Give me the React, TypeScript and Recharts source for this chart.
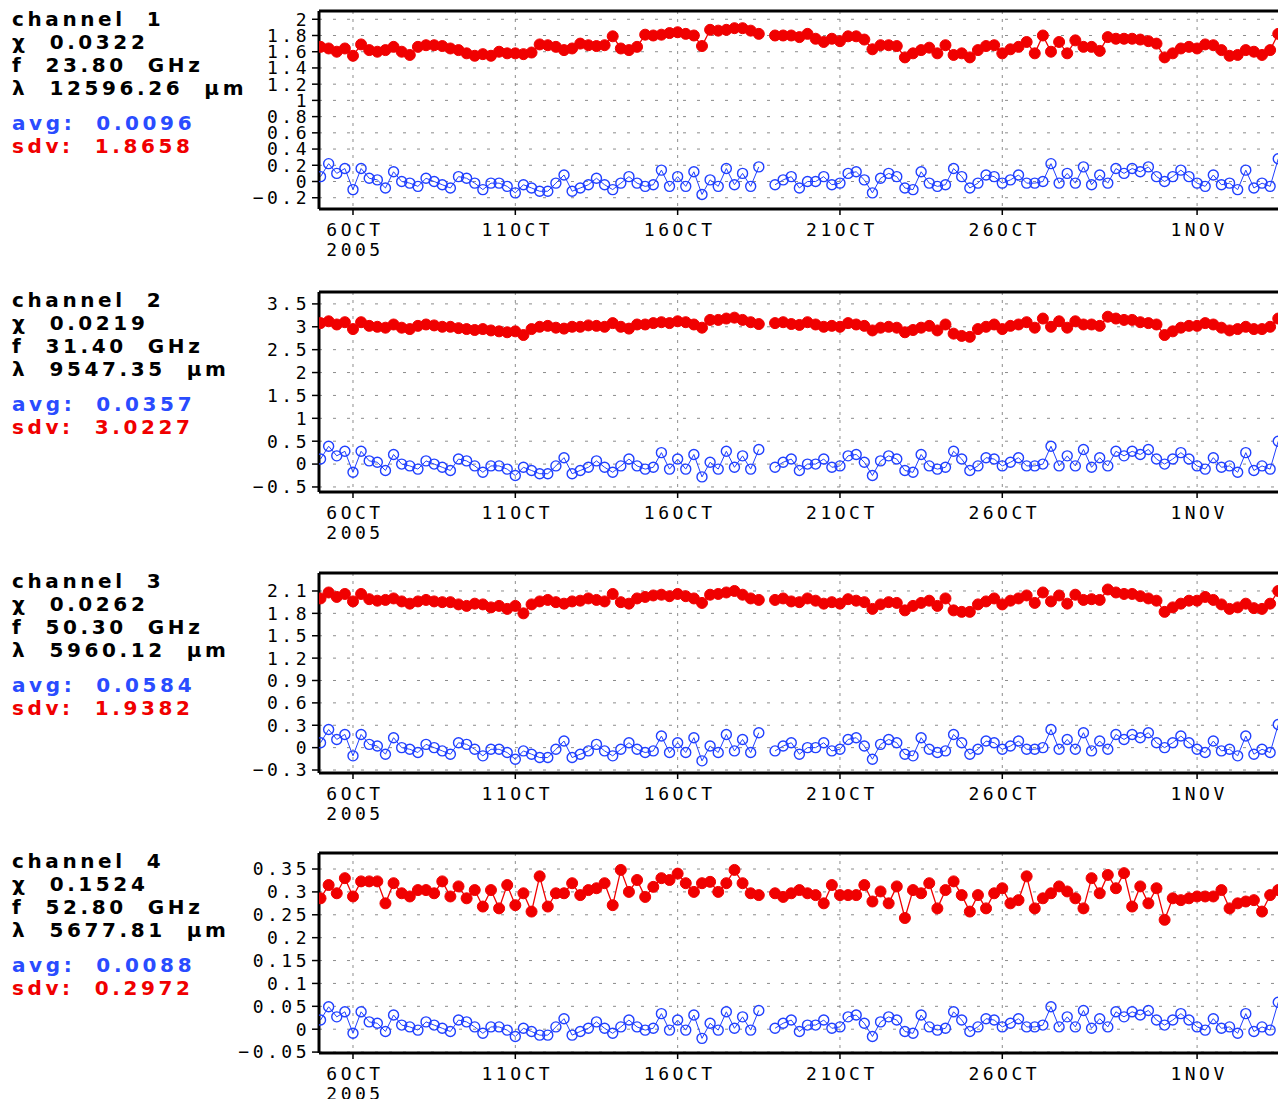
import React from "react";
import { LineChart, Line, XAxis, YAxis, CartesianGrid, ReferenceLine } from "recharts";

// 6-hourly samples starting 5 Oct 2005 00Z (day-of-October numbering, 1 Nov = 32)
const START_DAY = 5;
const STEP_DAYS = 0.25;

const xTicks = [6, 11, 16, 21, 26, 32];
const xTickLabels: Record<number, string> = {
  6: "6OCT",
  11: "11OCT",
  16: "16OCT",
  21: "21OCT",
  26: "26OCT",
  32: "1NOV",
};
const X_DOMAIN: [number, number] = [4.953, 35.17];

const ch1Sdv = [
  1.66, 1.64, 1.6, 1.64, 1.55, 1.69, 1.62, 1.6, 1.62, 1.66, 1.6, 1.56,
  1.66, 1.68, 1.68, 1.67, 1.64, 1.62, 1.58, 1.55, 1.57, 1.55, 1.6, 1.58,
  1.58, 1.57, 1.59, 1.69, 1.68, 1.66, 1.62, 1.64, 1.7, 1.68, 1.67, 1.68,
  1.79, 1.64, 1.62, 1.66, 1.81, 1.8, 1.81, 1.83, 1.84, 1.82, 1.8, 1.67,
  1.87, 1.86, 1.87, 1.89, 1.89, 1.86, 1.82, null, 1.8, 1.8, 1.8, 1.78,
  1.82, 1.76, 1.72, 1.76, 1.73, 1.79, 1.79, 1.75, 1.63, 1.68, 1.68, 1.67,
  1.53, 1.58, 1.62, 1.65, 1.58, 1.68, 1.56, 1.58, 1.53, 1.62, 1.67, 1.68,
  1.58, 1.63, 1.66, 1.72, 1.58, 1.8, 1.6, 1.72, 1.58, 1.74, 1.66, 1.66,
  1.61, 1.78, 1.76, 1.76, 1.76, 1.75, 1.73, 1.7, 1.53, 1.58, 1.64, 1.66,
  1.64, 1.69, 1.68, 1.62, 1.55, 1.56, 1.62, 1.6, 1.56, 1.62, 1.82,
];
const ch1Avg = [
  0.06, 0.22, 0.1, 0.16, -0.1, 0.16, 0.04, 0.02, -0.08, 0.12,
  0.0, -0.02, -0.06, 0.04, 0.0, -0.04, -0.08, 0.06, 0.04, -0.02,
  -0.1, -0.02, -0.02, -0.06, -0.14, -0.04, -0.08, -0.12, -0.12, -0.02,
  0.08, -0.12, -0.08, -0.04, 0.04, -0.04, -0.1, -0.02, 0.06, -0.02,
  -0.06, -0.04, 0.14, -0.06, 0.06, -0.06, 0.12, -0.16, 0.02, -0.06,
  0.16, -0.04, 0.1, -0.06, 0.18, null, -0.04, 0.02, 0.06, -0.08,
  0.0, 0.0, 0.06, -0.04, -0.02, 0.1, 0.12, 0.02, -0.14, 0.04,
  0.1, 0.06, -0.08, -0.1, 0.12, -0.02, -0.06, -0.04, 0.16, 0.06,
  -0.08, -0.02, 0.08, 0.06, -0.02, 0.02, 0.08, -0.02, -0.02, 0.0,
  0.22, -0.02, 0.1, -0.02, 0.18, -0.04, 0.08, -0.02, 0.16, 0.1,
  0.16, 0.12, 0.18, 0.06, 0.0, 0.06, 0.14, 0.06, -0.02, -0.06,
  0.08, -0.04, -0.02, -0.1, 0.14, -0.08, -0.02, -0.06, 0.28,
];

const ch2Sdv = [
  3.08, 3.12, 3.05, 3.1, 2.95, 3.1, 3.02, 3.0, 2.98, 3.05, 2.98, 2.95,
  3.02, 3.05, 3.03, 3.0, 3.0, 2.97, 2.95, 2.93, 2.95, 2.92, 2.9, 2.88,
  2.9, 2.82, 2.95, 3.0, 3.02, 2.98, 2.96, 3.0, 3.0, 3.03, 3.02, 3.0,
  3.08, 3.0, 2.96, 3.05, 3.05, 3.08, 3.1, 3.08, 3.12, 3.1, 3.05, 2.98,
  3.15, 3.15, 3.18, 3.2, 3.15, 3.1, 3.06, null, 3.08, 3.1, 3.06, 3.04,
  3.1, 3.05, 3.0, 3.02, 3.0, 3.08, 3.05, 3.02, 2.92, 2.98, 3.0, 2.98,
  2.88, 2.93, 2.98, 3.02, 2.92, 3.05, 2.85, 2.8, 2.78, 2.95, 3.0, 3.05,
  2.95, 3.02, 3.05, 3.1, 2.98, 3.18, 3.0, 3.12, 2.98, 3.12, 3.05, 3.05,
  3.02, 3.22, 3.18, 3.15, 3.15, 3.1, 3.08, 3.05, 2.82, 2.9, 2.98, 3.02,
  3.02, 3.08, 3.05, 2.98, 2.92, 2.95, 3.0, 2.95, 2.95, 3.0, 3.18,
];
const ch2Avg = [
  0.11, 0.39, 0.18, 0.28, -0.18, 0.28, 0.07, 0.04, -0.14, 0.21,
  0.0, -0.04, -0.11, 0.07, 0.0, -0.07, -0.14, 0.11, 0.07, -0.04,
  -0.18, -0.04, -0.04, -0.11, -0.25, -0.07, -0.14, -0.21, -0.21, -0.04,
  0.14, -0.21, -0.14, -0.07, 0.07, -0.07, -0.18, -0.04, 0.11, -0.04,
  -0.11, -0.07, 0.25, -0.11, 0.11, -0.11, 0.21, -0.28, 0.04, -0.11,
  0.28, -0.07, 0.18, -0.11, 0.32, null, -0.07, 0.04, 0.11, -0.14,
  0.0, 0.0, 0.11, -0.07, -0.04, 0.18, 0.21, 0.04, -0.25, 0.07,
  0.18, 0.11, -0.14, -0.18, 0.21, -0.04, -0.11, -0.07, 0.28, 0.11,
  -0.14, -0.04, 0.14, 0.11, -0.04, 0.04, 0.14, -0.04, -0.04, 0.0,
  0.39, -0.04, 0.18, -0.04, 0.32, -0.07, 0.14, -0.04, 0.28, 0.18,
  0.28, 0.21, 0.32, 0.11, 0.0, 0.11, 0.25, 0.11, -0.04, -0.11,
  0.14, -0.07, -0.04, -0.18, 0.25, -0.14, -0.04, -0.11, 0.5,
];

const ch3Sdv = [
  2.0, 2.08, 2.02, 2.06, 1.96, 2.06, 1.99, 1.97, 1.98, 2.0, 1.96, 1.93,
  1.96, 1.98, 1.96, 1.95, 1.95, 1.92, 1.9, 1.93, 1.92, 1.88, 1.9, 1.86,
  1.9, 1.8, 1.92, 1.96, 1.98, 1.95, 1.93, 1.96, 1.97, 2.0, 1.98, 1.96,
  2.06, 1.95, 1.93, 2.0, 2.02, 2.04, 2.05, 2.03, 2.06, 2.03, 2.0, 1.94,
  2.05, 2.06, 2.08, 2.1, 2.05, 2.0, 1.98, null, 1.98, 2.0, 1.96, 1.95,
  2.0, 1.97, 1.93, 1.95, 1.93, 1.99, 1.97, 1.95, 1.86, 1.92, 1.95, 1.94,
  1.84, 1.9, 1.94, 1.97, 1.9, 2.0, 1.84, 1.82, 1.82, 1.92, 1.96, 2.0,
  1.92, 1.97, 2.0, 2.04, 1.94, 2.08, 1.96, 2.04, 1.93, 2.05, 1.98, 1.99,
  1.98, 2.12, 2.08, 2.06, 2.06, 2.03, 2.0, 1.97, 1.82, 1.88, 1.93, 1.97,
  1.97, 2.02, 1.98, 1.92, 1.86, 1.88, 1.93, 1.87, 1.86, 1.93, 2.1,
];
const ch3Avg = [
  0.066, 0.243, 0.11, 0.177, -0.11, 0.177, 0.044, 0.022, -0.088, 0.133,
  0, -0.022, -0.066, 0.044, 0, -0.044, -0.088, 0.066, 0.044, -0.022,
  -0.11, -0.022, -0.022, -0.066, -0.155, -0.044, -0.088, -0.133, -0.133, -0.022,
  0.088, -0.133, -0.088, -0.044, 0.044, -0.044, -0.11, -0.022, 0.066, -0.022,
  -0.066, -0.044, 0.155, -0.066, 0.066, -0.066, 0.133, -0.177, 0.022, -0.066,
  0.177, -0.044, 0.11, -0.066, 0.2, null, -0.044, 0.022, 0.066, -0.088,
  0, 0, 0.066, -0.044, -0.022, 0.11, 0.133, 0.022, -0.155, 0.044,
  0.11, 0.066, -0.088, -0.11, 0.133, -0.022, -0.066, -0.044, 0.177, 0.066,
  -0.088, -0.022, 0.088, 0.066, -0.022, 0.022, 0.088, -0.022, -0.022, 0,
  0.243, -0.022, 0.11, -0.022, 0.2, -0.044, 0.088, -0.022, 0.177, 0.11,
  0.177, 0.133, 0.2, 0.066, 0, 0.066, 0.155, 0.066, -0.022, -0.066,
  0.088, -0.044, -0.022, -0.11, 0.155, -0.088, -0.022, -0.066, 0.31,
];

const ch4Sdv = [
  0.286, 0.315, 0.297, 0.33, 0.29, 0.323, 0.323, 0.323, 0.275, 0.319,
  0.297, 0.29, 0.304, 0.304, 0.297, 0.323, 0.29, 0.312, 0.286, 0.304,
  0.268, 0.304, 0.264, 0.315, 0.271, 0.297, 0.257, 0.334, 0.268, 0.297,
  0.297, 0.319, 0.293, 0.304, 0.308, 0.319, 0.271, 0.348, 0.3, 0.326,
  0.289, 0.311, 0.33, 0.326, 0.34, 0.319, 0.3, 0.319, 0.322, 0.3,
  0.319, 0.348, 0.319, 0.297, 0.293, null, 0.297, 0.289, 0.297, 0.304,
  0.297, 0.293, 0.275, 0.315, 0.293, 0.293, 0.293, 0.315, 0.279, 0.301,
  0.275, 0.312, 0.243, 0.304, 0.297, 0.319, 0.264, 0.304, 0.323, 0.293,
  0.257, 0.293, 0.264, 0.297, 0.308, 0.275, 0.282, 0.334, 0.264, 0.286,
  0.297, 0.312, 0.301, 0.286, 0.264, 0.33, 0.297, 0.337, 0.308, 0.341,
  0.268, 0.312, 0.275, 0.308, 0.239, 0.286, 0.282, 0.286, 0.29, 0.29,
  0.29, 0.304, 0.264, 0.275, 0.279, 0.282, 0.257, 0.293, 0.304,
];
const ch4Avg = [
  0.02, 0.049, 0.027, 0.038, -0.009, 0.038, 0.016, 0.013, -0.005, 0.031,
  0.009, 0.005, -0.002, 0.016, 0.009, 0.002, -0.005, 0.02, 0.016, 0.005,
  -0.009, 0.005, 0.005, -0.002, -0.016, 0.002, -0.005, -0.013, -0.013, 0.005,
  0.023, -0.013, -0.005, 0.002, 0.016, 0.002, -0.009, 0.005, 0.02, 0.005,
  -0.002, 0.002, 0.034, -0.002, 0.02, -0.002, 0.031, -0.02, 0.013, -0.002,
  0.038, 0.002, 0.027, -0.002, 0.041, null, 0.002, 0.013, 0.02, -0.005,
  0.009, 0.009, 0.02, 0.002, 0.005, 0.027, 0.031, 0.013, -0.016, 0.016,
  0.027, 0.02, -0.005, -0.009, 0.031, 0.005, -0.002, 0.002, 0.038, 0.02,
  -0.005, 0.005, 0.023, 0.02, 0.005, 0.013, 0.023, 0.005, 0.005, 0.009,
  0.049, 0.005, 0.027, 0.005, 0.041, 0.002, 0.023, 0.005, 0.038, 0.027,
  0.038, 0.031, 0.041, 0.02, 0.009, 0.02, 0.034, 0.02, 0.005, -0.002,
  0.023, 0.002, 0.005, -0.009, 0.034, -0.005, 0.005, -0.002, 0.059,
];

const ch1Ticks = [-0.2, 0, 0.2, 0.4, 0.6, 0.8, 1, 1.2, 1.4, 1.6, 1.8, 2];
const ch2Ticks = [-0.5, 0, 0.5, 1, 1.5, 2, 2.5, 3, 3.5];
const ch3Ticks = [-0.3, 0, 0.3, 0.6, 0.9, 1.2, 1.5, 1.8, 2.1];
const ch4Ticks = [-0.05, 0, 0.05, 0.1, 0.15, 0.2, 0.25, 0.3, 0.35];

const RED = "#f00000";
const BLUE = "#2040ff";
const TEXT_BLUE = "#2a4cff";
const M_TOP = 6;

const channels = [
  {
    name: "channel  1", chi: "χ  0.0322", freq: "f  23.80  GHz", wave: "λ  12596.26  μm",
    avg: "avg:  0.0096", sdv: "sdv:  1.8658",
    red: ch1Sdv, blue: ch1Avg, ticks: ch1Ticks, domain: [-0.339, 2.102], top: 11, height: 198,
  },
  {
    name: "channel  2", chi: "χ  0.0219", freq: "f  31.40  GHz", wave: "λ  9547.35  μm",
    avg: "avg:  0.0357", sdv: "sdv:  3.0227",
    red: ch2Sdv, blue: ch2Avg, ticks: ch2Ticks, domain: [-0.61, 3.76], top: 292, height: 200,
  },
  {
    name: "channel  3", chi: "χ  0.0262", freq: "f  50.30  GHz", wave: "λ  5960.12  μm",
    avg: "avg:  0.0584", sdv: "sdv:  1.9382",
    red: ch3Sdv, blue: ch3Avg, ticks: ch3Ticks, domain: [-0.34, 2.341], top: 573, height: 200,
  },
  {
    name: "channel  4", chi: "χ  0.1524", freq: "f  52.80  GHz", wave: "λ  5677.81  μm",
    avg: "avg:  0.0088", sdv: "sdv:  0.2972",
    red: ch4Sdv, blue: ch4Avg, ticks: ch4Ticks, domain: [-0.052, 0.385], top: 853, height: 200,
  },
];

const tickFont = {
  fontFamily: "DejaVu Sans Mono",
  fontSize: 18,
  letterSpacing: 3.5,
  fill: "#000",
};

const fmtY = (v: number) => (v < 0 ? "\u2212" + String(-v) : String(v));

function DateTick({ x, y, payload }: any) {
  const v = payload.value;
  return (
    <g>
      <text x={x + 2} y={y + 19} textAnchor="middle" style={tickFont}>
        {xTickLabels[v]}
      </text>
      {v === 6 && (
        <text x={x + 2} y={y + 39} textAnchor="middle" style={tickFont}>
          2005
        </text>
      )}
    </g>
  );
}

function InfoText({ ch }: any) {
  const st = {
    fontFamily: "DejaVu Sans",
    fontWeight: 700,
    fontSize: 20,
    letterSpacing: 3.6,
    whiteSpace: "pre" as const,
  };
  return (
    <svg
      width={300}
      height={170}
      style={{ position: "absolute", left: 0, top: ch.top - 11 }}
    >
      <text x={12} y={26} fill="#000" style={st}>{ch.name}</text>
      <text x={12} y={49} fill="#000" style={st}>{ch.chi}</text>
      <text x={12} y={72} fill="#000" style={st}>{ch.freq}</text>
      <text x={12} y={95} fill="#000" style={st}>{ch.wave}</text>
      <text x={12} y={130} fill={TEXT_BLUE} style={st}>{ch.avg}</text>
      <text x={12} y={153} fill={RED} style={st}>{ch.sdv}</text>
    </svg>
  );
}

function Panel({ ch }: any) {
  const data = ch.red.map((r: number | null, i: number) => ({
    t: START_DAY + i * STEP_DAYS,
    sdv: r,
    avg: ch.blue[i],
  }));
  return (
    <>
      <InfoText ch={ch} />
      <div style={{ position: "absolute", left: 0, top: ch.top - M_TOP }}>
        <LineChart
          width={1300}
          height={M_TOP + ch.height + 60}
          data={data}
          margin={{ top: M_TOP, right: 0, left: 0, bottom: 0 }}
        >
          <CartesianGrid vertical={false} stroke="#8c8c8c" strokeDasharray="3 11" />
          <CartesianGrid horizontal={false} stroke="#8c8c8c" strokeDasharray="3 5" />
          <XAxis
            dataKey="t"
            type="number"
            domain={X_DOMAIN}
            ticks={xTicks}
            interval={0}
            allowDataOverflow
            height={60}
            tick={<DateTick />}
            tickSize={6}
            tickMargin={2}
            axisLine={{ stroke: "#000", strokeWidth: 3 }}
            tickLine={{ stroke: "#000", strokeWidth: 1.5 }}
          />
          <YAxis
            type="number"
            domain={ch.domain}
            ticks={ch.ticks}
            interval={0}
            allowDataOverflow
            width={319}
            tickFormatter={fmtY}
            tick={tickFont}
            tickSize={7}
            tickMargin={2}
            axisLine={{ stroke: "#000", strokeWidth: 3 }}
            tickLine={{ stroke: "#000", strokeWidth: 1.5 }}
          />
          <ReferenceLine y={ch.domain[1]} stroke="#000" strokeWidth={3} ifOverflow="visible" />
          <Line
            dataKey="avg"
            stroke={BLUE}
            strokeWidth={1}
            dot={{ r: 5, fill: "none", stroke: BLUE, strokeWidth: 1.4 }}
            isAnimationActive={false}
          />
          <Line
            dataKey="sdv"
            stroke={RED}
            strokeWidth={1.3}
            dot={{ r: 5.5, fill: RED, stroke: RED, strokeWidth: 1 }}
            isAnimationActive={false}
          />
        </LineChart>
      </div>
    </>
  );
}

export default function App() {
  return (
    <div
      style={{
        position: "absolute",
        left: 0,
        top: 0,
        width: 1278,
        height: 1099,
        overflow: "hidden",
        background: "#fff",
      }}
    >
      {channels.map((ch) => (
        <Panel key={ch.name} ch={ch} />
      ))}
    </div>
  );
}
